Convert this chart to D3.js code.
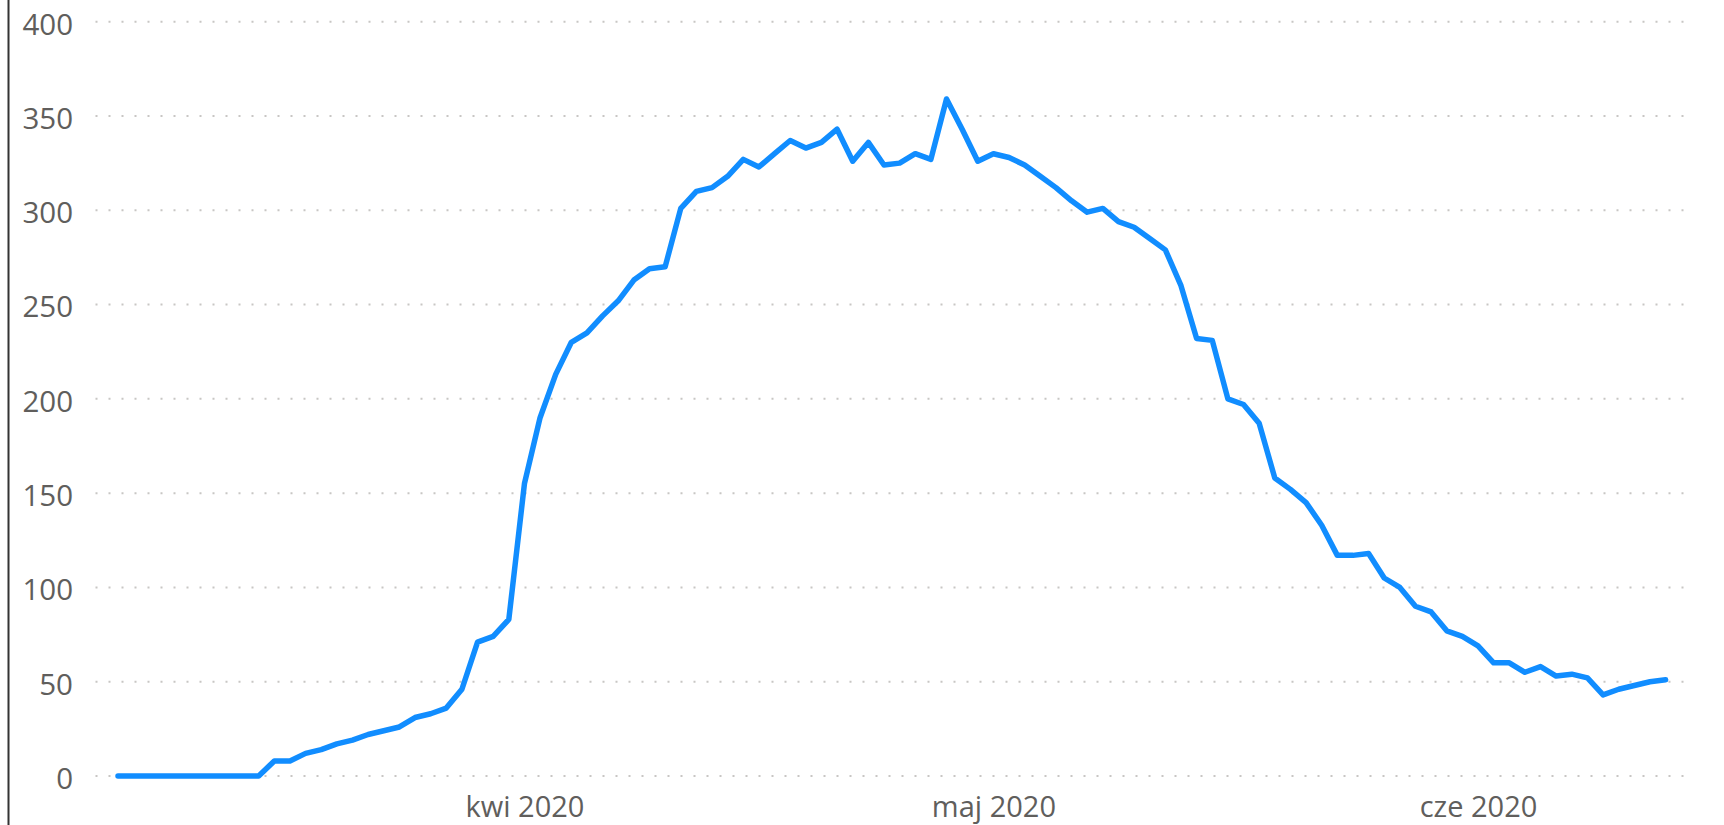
<!DOCTYPE html>
<head>
    <title>Line chart</title>
    <meta charset="utf-8">
    <style>
        body { margin: 0; background: #fff; }
        text { font-family: "Open Sans", "Noto Sans", sans-serif; }
    </style>
</head>

<body>

<div id="chart"></div>

<script src="https://d3js.org/d3.v7.min.js"></script>

<script>

var width = 1724,
    height = 825;

// Data: one value per day starting 6 Mar 2020
var startDate = new Date(2020, 2, 6);
var values = [
    0, 0, 0, 0, 0, 0, 0, 0, 0, 0,
    8, 8, 12, 14, 17, 19, 22, 24, 26, 31,
    33, 36, 46, 71, 74, 83, 155, 190, 213, 230,
    235, 244, 252, 263, 269, 270, 301, 310, 312, 318,
    327, 323, 330, 337, 333, 336, 343, 326, 336, 324,
    325, 330, 327, 359, 343, 326, 330, 328, 324, 318,
    312, 305, 299, 301, 294, 291, 285, 279, 260, 232,
    231, 200, 197, 187, 158, 152, 145, 133, 117, 117,
    118, 105, 100, 90, 87, 77, 74, 69, 60, 60,
    55, 58, 53, 54, 52, 43, 46, 48, 50, 51
];
var dates = values.map(function(v, i) { return d3.timeDay.offset(startDate, i); });

// Axis ticks
var yTicks = [0, 50, 100, 150, 200, 250, 300, 350, 400];
var monthTicks = [new Date(2020, 3, 1), new Date(2020, 4, 1), new Date(2020, 5, 1)];
var monthLabels = ["kwi 2020", "maj 2020", "cze 2020"];

var data = dates.map(function(d, i) { return { date: d, value: values[i] }; });

var svg = d3.select("#chart").append("svg")
    .attr("width", width)
    .attr("height", height);

var x = d3.scaleTime()
    .domain([dates[0], dates[dates.length - 1]])
    .range([118, 1665.6]);

var y = d3.scaleLinear()
    .domain([0, 400])
    .range([776, 21.7]);

// left border line
svg.append("line")
    .attr("x1", 8.5).attr("x2", 8.5)
    .attr("y1", 0).attr("y2", height)
    .attr("stroke", "#333")
    .attr("stroke-width", 2);

// dotted gridlines
svg.append("g")
    .selectAll("line")
    .data(yTicks)
    .enter().append("line")
    .attr("x1", 95.5)
    .attr("x2", 1686)
    .attr("y1", function(d) { return y(d); })
    .attr("y2", function(d) { return y(d); })
    .attr("stroke", "#c8c6c4")
    .attr("stroke-width", 2)
    .attr("stroke-dasharray", "2,11");

// y axis labels
var yAxis = svg.append("g")
    .attr("transform", "translate(73,0)")
    .call(d3.axisLeft(y).tickValues(yTicks).tickSize(0).tickPadding(0));
yAxis.select(".domain").remove();
yAxis.selectAll("text")
    .attr("dy", "0.42em")
    .attr("fill", "#605e5c")
    .style("font-size", "29.5px");

// x axis labels (kept just inside the bottom edge)
var xAxis = svg.append("g")
    .attr("transform", "translate(0,776)")
    .call(d3.axisBottom(x).tickValues(monthTicks).tickSize(0)
        .tickFormat(function(d, i) { return monthLabels[i]; }));
xAxis.select(".domain").remove();
xAxis.selectAll("text")
    .attr("y", 40.5)
    .attr("dy", 0)
    .attr("fill", "#605e5c")
    .style("font-size", "29px");

// the line
var line = d3.line()
    .x(function(d) { return x(d.date); })
    .y(function(d) { return y(d.value); });

svg.append("path")
    .datum(data)
    .attr("d", line)
    .attr("fill", "none")
    .attr("stroke", "#118dff")
    .attr("stroke-width", 5.5)
    .attr("stroke-linejoin", "round")
    .attr("stroke-linecap", "round");

</script>

</body>
</html>
